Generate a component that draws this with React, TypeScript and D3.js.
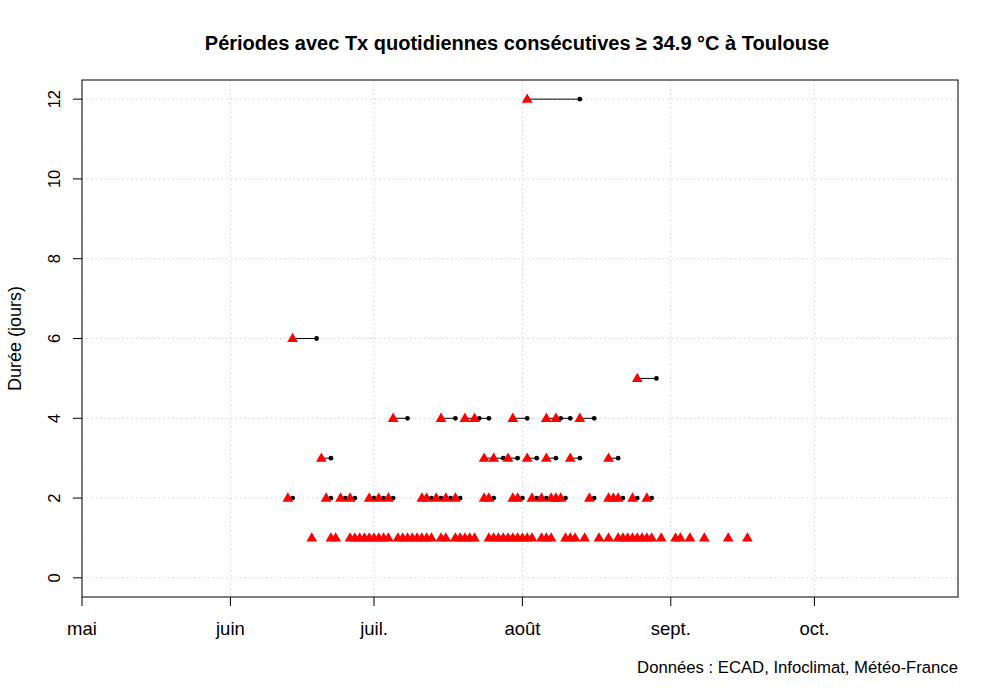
import React from "react";
import * as d3 from "d3";

// Start dates (MM-DD) of hot periods, grouped by length in days
const starts1 = [
  "06-18", "06-22", "06-23",
  "06-26", "06-27", "06-28", "06-29", "06-30", "07-01", "07-02", "07-03", "07-04",
  "07-06", "07-07", "07-08", "07-09", "07-10", "07-11", "07-12", "07-13",
  "07-15", "07-16",
  "07-18", "07-19", "07-20", "07-21", "07-22",
  "07-25", "07-26", "07-27", "07-28", "07-29", "07-30", "07-31", "08-01", "08-02", "08-03",
  "08-05", "08-06", "08-07",
  "08-10", "08-11", "08-12",
  "08-14", "08-17", "08-19",
  "08-21", "08-22", "08-23", "08-24", "08-25", "08-26", "08-27", "08-28",
  "08-30", "09-02", "09-03", "09-05", "09-08", "09-13", "09-17",
];
const starts2 = [
  "06-13", "06-21", "06-24", "06-26", "06-30", "07-02", "07-04",
  "07-11", "07-12", "07-14", "07-16", "07-18",
  "07-24", "07-25", "07-30", "07-31",
  "08-03", "08-05", "08-07", "08-08", "08-09",
  "08-15", "08-19", "08-20", "08-21", "08-24", "08-27",
];
const starts3 = ["06-20", "07-24", "07-26", "07-29", "08-02", "08-06", "08-11", "08-19"];
const starts4 = ["07-05", "07-15", "07-20", "07-22", "07-30", "08-06", "08-08", "08-13"];
const starts5 = ["08-25"];
const starts6 = ["06-14"];
const starts12 = ["08-02"];

const monthTicks = ["05-01", "06-01", "07-01", "08-01", "09-01", "10-01"];
const monthLabels = ["mai", "juin", "juil.", "août", "sept.", "oct."];
const yTicks = [0, 2, 4, 6, 8, 10, 12];

const title = "Périodes avec Tx quotidiennes consécutives ≥ 34.9 °C à Toulouse";
const yLabel = "Durée (jours)";
const source = "Données : ECAD, Infoclimat, Météo-France";

const YEAR = 2001;
const toDate = (md: string) => {
  const [m, d] = md.split("-").map(Number);
  return new Date(YEAR, m - 1, d);
};

const groups: [string[], number][] = [
  [starts1, 1], [starts2, 2], [starts3, 3], [starts4, 4],
  [starts5, 5], [starts6, 6], [starts12, 12],
];
const periods = groups.flatMap(([arr, len]) =>
  arr.map((s) => {
    const start = toDate(s);
    const end = d3.timeDay.offset(start, len - 1);
    return { start, end, len };
  })
);

const W = 1000, H = 699;
const L = 82, R = 958, T = 80, B = 597;
const FONT = "'Liberation Sans', Arial, sans-serif";

export default function App() {
  const x = d3.scaleTime().domain([toDate("05-01"), toDate("10-31")]).range([L, R]);
  const y = d3.scaleLinear().domain([-0.48, 12.48]).range([B, T]);
  const tri = d3.symbol().type(d3.symbolTriangle).size(50)();

  return (
    <svg width={W} height={H} style={{ position: "absolute", left: 0, top: 0, background: "#fff" }}
      fontFamily={FONT}>
      <rect x={0} y={0} width={W} height={H} fill="#fff" />
      {/* grid */}
      {monthTicks.map((t) => (
        <line key={"gx" + t} x1={x(toDate(t))} x2={x(toDate(t))} y1={T} y2={B}
          stroke="#d3d3d3" strokeDasharray="1.5,3" />
      ))}
      {yTicks.map((t) => (
        <line key={"gy" + t} x1={L} x2={R} y1={y(t)} y2={y(t)}
          stroke="#d3d3d3" strokeDasharray="1.5,3" />
      ))}
      {/* segments */}
      {periods.filter((p) => p.len > 1).map((p, i) => (
        <line key={"s" + i} x1={x(p.start)} x2={x(p.end)} y1={y(p.len)} y2={y(p.len)}
          stroke="#000" strokeWidth={1} />
      ))}
      {/* end dots */}
      {periods.filter((p) => p.len > 1).map((p, i) => (
        <circle key={"d" + i} cx={x(p.end)} cy={y(p.len)} r={2.4} fill="#000" />
      ))}
      {/* start triangles */}
      {periods.map((p, i) => (
        <path key={"t" + i} d={tri} transform={`translate(${x(p.start)},${y(p.len) + 0.5})`}
          fill="#ff0000" />
      ))}
      {/* box */}
      <rect x={L} y={T} width={R - L} height={B - T} fill="none" stroke="#000" strokeWidth={1} />
      {/* x axis */}
      {monthTicks.map((t, i) => (
        <g key={"xt" + t} transform={`translate(${x(toDate(t))},0)`}>
          <line y1={B} y2={B + 9} stroke="#000" />
          <text y={B + 38} textAnchor="middle" fontSize={18.5}>{monthLabels[i]}</text>
        </g>
      ))}
      {/* y axis */}
      {yTicks.map((t) => (
        <g key={"yt" + t} transform={`translate(0,${y(t)})`}>
          <line x1={L - 9} x2={L} stroke="#000" />
          <text transform={`translate(${L - 22},0) rotate(-90)`} textAnchor="middle"
            fontSize={16.5}>{t}</text>
        </g>
      ))}
      <text transform={`translate(21,${(T + B) / 2}) rotate(-90)`} textAnchor="middle"
        fontSize={18}>{yLabel}</text>
      <text x={(L + R) / 2 - 3} y={50} textAnchor="middle" fontSize={20} fontWeight="bold">{title}</text>
      <text x={R} y={673} textAnchor="end" fontSize={16.7}>{source}</text>
    </svg>
  );
}
